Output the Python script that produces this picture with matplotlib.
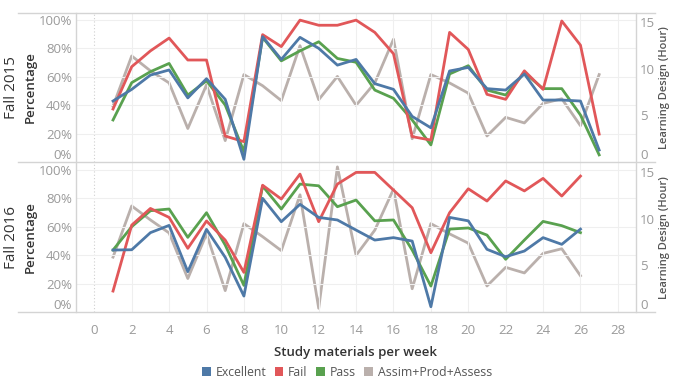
import numpy as np
import matplotlib.pyplot as plt
from matplotlib.lines import Line2D
from matplotlib.patches import Patch

plt.rcParams['font.family'] = ['Open Sans', 'DejaVu Sans']

# Weekly share of students active, by outcome group, plus weekly learning design hours
WEEKS_2015 = list(range(1, 28))
EXCELLENT_2015 = [42.8, 51, 61, 64.6, 45, 58.5, 44, 1.9, 88, 72, 87.5, 79.8, 68, 72, 55, 51, 32, 24,
                  63.9, 66.4, 51.5, 50.5, 61.8, 43.5, 43.5, 42.8, 8.4]
FAIL_2015 = [37.2, 66.9, 78, 87, 71.6, 71.6, 18.2, 14.3, 89.4, 81, 99.6, 96, 96, 99.6, 91, 76, 17.8, 15.4,
             91, 79, 47.5, 44, 64, 51, 99, 82, 19.6]
PASS_2015 = [29.5, 55.7, 63.4, 69.2, 47, 57, 40, 7.3, 87.5, 71, 78, 84.4, 72.7, 70, 50.5, 44.7, 29.5, 12,
             61.8, 67.6, 50.5, 47, 62.7, 51.5, 51.5, 33, 5]
DESIGN_2015 = [6.0, 11.4, 9.8, 8.5, 3.6, 8.3, 2.3, 9.4, 8.2, 6.6, 12.5, 6.7, 9.2, 6.1, 8.5, 13.2, 2.5, 9.4,
               8.5, 7.4, 2.8, 4.8, 4.2, 6.3, 6.8, 3.9, 9.4]

WEEKS_2016 = list(range(1, 27))
EXCELLENT_2016 = [43.5, 43.7, 55.7, 60.8, 28.3, 58, 38.4, 11.2, 79.8, 63.4, 75.6, 66.4, 64.6, 57.5, 50.5,
                  52.2, 49.8, 3.7, 66.4, 64, 44, 38.8, 42.8, 52.2, 47.5, 58.2]
FAIL_2016 = [14.7, 61, 72.7, 66.4, 44.7, 63.9, 50.5, 27.8, 89, 79.3, 96.8, 63.4, 89.8, 98, 98, 85.6, 73.2,
             41.6, 69.7, 86.5, 77.9, 92, 85, 93.8, 81.4, 95.4]
PASS_2016 = [43.5, 59.9, 71.1, 72.3, 52.4, 69.7, 47, 18.7, 88.4, 72.3, 89.8, 88.6, 73.9, 78.6, 64, 64.6,
             43.5, 18.2, 58.2, 59, 54, 37, 50.5, 63.6, 60.6, 55.7]
DESIGN_2016 = [5.9, 11.4, 9.9, 8.5, 3.6, 8.4, 2.3, 9.5, 8.1, 6.6, 12.6, 0.4, 15.6, 6.1, 8.8, 13.2, 2.5, 9.5,
               8.4, 7.4, 2.8, 4.8, 4.2, 6.3, 6.8, 3.9]

SEMESTERS = ["Fall 2015", "Fall 2016"]
SERIES = ["Excellent", "Fail", "Pass", "Assim+Prod+Assess"]
COLORS = ["#4e79a7", "#e15759", "#59a14f", "#bab0ac"]

TICK_COLOR = "#9a9a9a"
BORDER = "#d4d4d4"
GRID = "#efefef"

fig = plt.figure(figsize=(6.77, 3.8), dpi=100)
W, H = 677.0, 380.0

def px_box(x0, y0, x1, y1):
	return [x0 / W, 1 - y1 / H, (x1 - x0) / W, (y1 - y0) / H]

panels = [
	(px_box(76, 13, 636, 162), WEEKS_2015, EXCELLENT_2015, FAIL_2015, PASS_2015, DESIGN_2015),
	(px_box(76, 163, 636, 312), WEEKS_2016, EXCELLENT_2016, FAIL_2016, PASS_2016, DESIGN_2016),
]

for i, (box, weeks, exc, fail, pas, design) in enumerate(panels):
	ax = fig.add_axes(box)
	ax2 = ax.twinx()
	ax.set_zorder(ax2.get_zorder() + 1)
	ax.patch.set_visible(False)

	ax.set_xlim(-0.98, 28.97)
	ax.set_ylim(0, 104.6)
	ax2.set_ylim(0, 16.02)

	# grid
	for gx in range(2, 29, 2):
		ax.axvline(gx, color=GRID, lw=0.8, zorder=0)
	ax.axvline(0, color="#cfcfcf", lw=0.8, ls=(0, (1, 2)), zorder=0)
	for gy in [20, 40, 60, 80, 100]:
		ax.axhline(gy, color=GRID, lw=0.8, zorder=0)

	# hours on the right axis, percentages on the left
	ax2.plot(weeks, design, color=COLORS[3], lw=2, clip_on=False)
	ax.plot(weeks, pas, color=COLORS[2], lw=2, clip_on=False)
	ax.plot(weeks, fail, color=COLORS[1], lw=2, clip_on=False)
	ax.plot(weeks, exc, color=COLORS[0], lw=2, clip_on=False)

	ax.set_yticks([0, 20, 40, 60, 80, 100])
	ax.set_yticklabels(["0%", "20%", "40%", "60%", "80%", "100%"])
	ax2.set_yticks([0, 5, 10, 15])
	ax.tick_params(axis="y", length=0, pad=3, labelsize=9.5, labelcolor=TICK_COLOR)
	ax2.tick_params(axis="y", length=0, pad=3, labelsize=9.5, labelcolor=TICK_COLOR)
	ax.get_yticklabels()[0].set_va("bottom")
	ax2.get_yticklabels()[0].set_va("bottom")

	for a in (ax, ax2):
		for s in a.spines.values():
			s.set_visible(False)

	if i == 0:
		ax.set_xticks([])
	else:
		ax.set_xticks(range(0, 29, 2))
		ax.tick_params(axis="x", length=0, pad=9, labelsize=9.5, labelcolor=TICK_COLOR)
		ax.set_xlabel("Study materials per week", fontsize=9.5, fontweight="semibold",
		              color="#333333", labelpad=6)

	yc = box[1] + box[3] / 2
	fig.text(12 / W, yc, SEMESTERS[i], rotation=90, ha="center", va="center",
	         fontsize=11, color="#333333")
	fig.text(30 / W, yc, "Percentage", rotation=90, ha="center", va="center",
	         fontsize=9.5, color="#333333", fontweight="semibold")
	fig.text(665 / W, yc, "Learning Design (Hour)", rotation=90, ha="center",
	         va="center", fontsize=8, color="#555555", fontweight="semibold")

# pane borders
for yp in [13, 162.5, 312]:
	fig.add_artist(Line2D([18 / W, 655 / W], [1 - yp / H, 1 - yp / H], color=BORDER, lw=1))
for xp in [76, 636]:
	fig.add_artist(Line2D([xp / W, xp / W], [1 - 13 / H, 1 - 312 / H], color=BORDER, lw=1))

handles = [Patch(facecolor=c, edgecolor="none") for c in COLORS]
fig.legend(handles, SERIES, loc="center", bbox_to_anchor=(347 / W, 1 - 372 / H), ncol=4,
           frameon=False, fontsize=8.8, handlelength=0.7, handleheight=0.7, handletextpad=0.4,
           columnspacing=0.7, labelcolor="#555555")

fig.savefig("out.png", dpi=100)
